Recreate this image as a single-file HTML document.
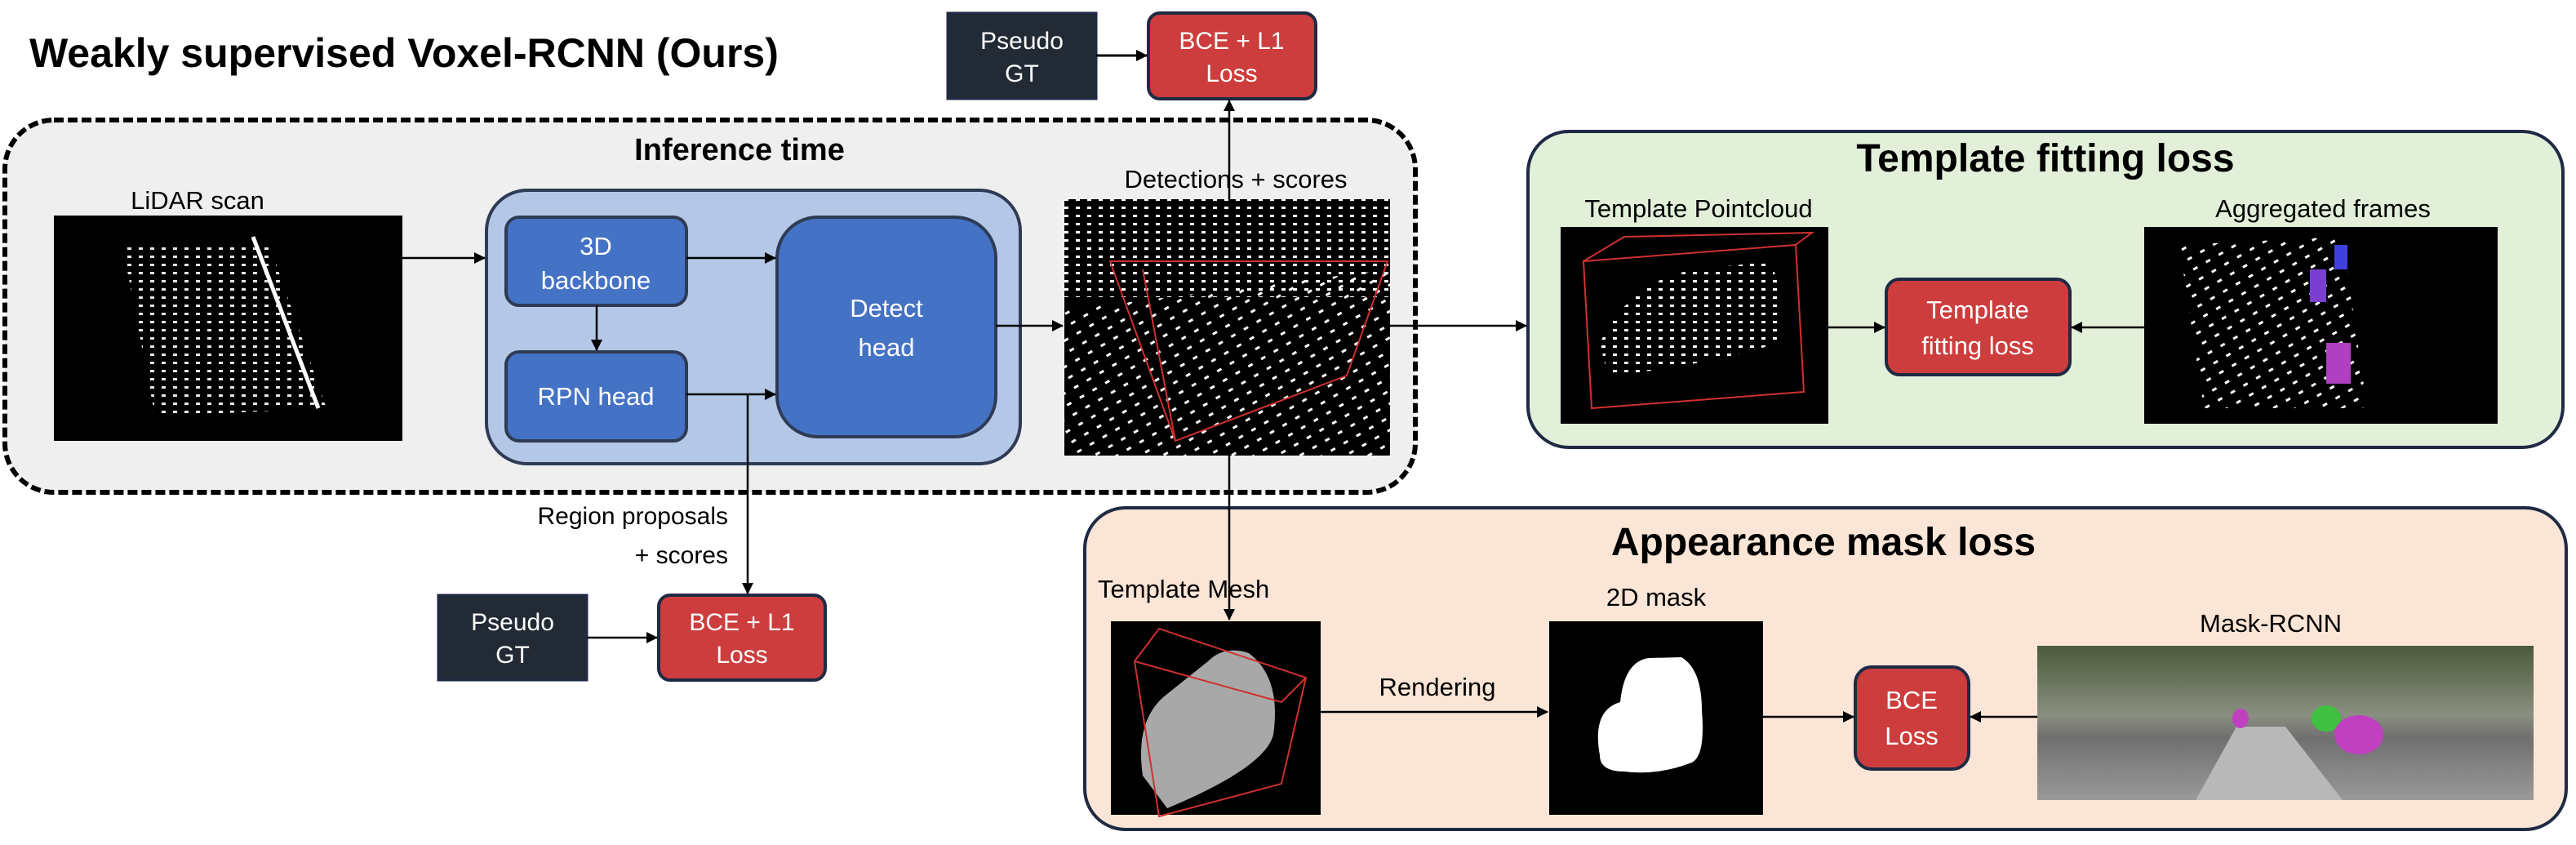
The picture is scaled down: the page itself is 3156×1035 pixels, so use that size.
<!DOCTYPE html>
<html><head><meta charset="utf-8"><style>
html,body{margin:0;padding:0;background:#fff;}
svg{display:block;font-family:"Liberation Sans",sans-serif;}
</style></head><body>
<svg width="3156" height="1035" viewBox="0 0 3156 1035" xmlns="http://www.w3.org/2000/svg">
<defs>
<marker id="ah" markerWidth="14" markerHeight="14" refX="13" refY="7" orient="auto" markerUnits="userSpaceOnUse" viewBox="0 0 14 14">
<path d="M0,0 L14,7 L0,14 z" fill="#000"/></marker>
<pattern id="dots" width="14" height="10" patternUnits="userSpaceOnUse"><rect x="2" y="3" width="5" height="3" fill="#fff"/></pattern>
<pattern id="dots2" width="18" height="14" patternUnits="userSpaceOnUse" patternTransform="rotate(-30)"><rect x="2" y="4" width="6" height="3" fill="#fff"/></pattern>
<linearGradient id="street" x1="0" y1="0" x2="0" y2="1"><stop offset="0" stop-color="#4a5a3a"/><stop offset="0.45" stop-color="#8a8f80"/><stop offset="0.6" stop-color="#6f6f6f"/><stop offset="1" stop-color="#9a9a9a"/></linearGradient>
</defs>

<text x="36" y="82" font-size="50" font-weight="bold">Weakly supervised Voxel-RCNN (Ours)</text>

<rect x="1161" y="16" width="182" height="105" fill="#222a35" stroke="#1f2a44" stroke-width="3"/>
<text x="1252" y="60" font-size="30" fill="#fff" text-anchor="middle">Pseudo</text>
<text x="1252" y="100" font-size="30" fill="#fff" text-anchor="middle">GT</text>
<rect x="1407" y="16" width="205" height="105" rx="14" fill="#cd3d3d" stroke="#1f2a44" stroke-width="4"/>
<text x="1509" y="60" font-size="30" fill="#fff" text-anchor="middle">BCE + L1</text>
<text x="1509" y="100" font-size="30" fill="#fff" text-anchor="middle">Loss</text>
<line x1="1343" y1="68" x2="1405" y2="68" stroke="#000" stroke-width="3" marker-end="url(#ah)"/>

<rect x="6" y="147" width="1728" height="456" rx="60" fill="#efefef" stroke="#000" stroke-width="6" stroke-dasharray="12,5"/>
<text x="906" y="196" font-size="38" font-weight="bold" text-anchor="middle">Inference time</text>
<text x="242" y="256" font-size="31" text-anchor="middle">LiDAR scan</text>
<rect x="66" y="264" width="427" height="276" fill="#000"/>
<path d="M150,300 L330,300 L400,500 L190,510 Z" fill="url(#dots)" opacity="0.9"/>
<line x1="310" y1="290" x2="390" y2="500" stroke="#fff" stroke-width="5"/>

<rect x="596" y="233" width="654" height="335" rx="50" fill="#b4c7e7" stroke="#2f3b55" stroke-width="4"/>
<rect x="620" y="266" width="221" height="108" rx="16" fill="#4472c4" stroke="#2f3b55" stroke-width="4"/>
<text x="730" y="312" font-size="31" fill="#fff" text-anchor="middle">3D</text>
<text x="730" y="354" font-size="31" fill="#fff" text-anchor="middle">backbone</text>
<rect x="620" y="431" width="221" height="109" rx="16" fill="#4472c4" stroke="#2f3b55" stroke-width="4"/>
<text x="730" y="496" font-size="31" fill="#fff" text-anchor="middle">RPN head</text>
<rect x="952" y="266" width="268" height="269" rx="50" fill="#4472c4" stroke="#2f3b55" stroke-width="4"/>
<text x="1086" y="388" font-size="31" fill="#fff" text-anchor="middle">Detect</text>
<text x="1086" y="436" font-size="31" fill="#fff" text-anchor="middle">head</text>

<line x1="493" y1="316" x2="594" y2="316" stroke="#000" stroke-width="2.5" marker-end="url(#ah)"/>
<line x1="841" y1="316" x2="950" y2="316" stroke="#000" stroke-width="2.5" marker-end="url(#ah)"/>
<line x1="841" y1="483" x2="950" y2="483" stroke="#000" stroke-width="2.5" marker-end="url(#ah)"/>
<line x1="731" y1="374" x2="731" y2="429" stroke="#000" stroke-width="2.5" marker-end="url(#ah)"/>
<line x1="1220" y1="399" x2="1302" y2="399" stroke="#000" stroke-width="2.5" marker-end="url(#ah)"/>

<text x="1514" y="230" font-size="31" text-anchor="middle">Detections + scores</text>
<rect x="1304" y="244" width="399" height="314" fill="#000"/>
<rect x="1304" y="244" width="399" height="120" fill="url(#dots)"/>
<path d="M1304,380 L1703,330 L1703,558 L1304,558 Z" fill="url(#dots2)"/>
<path d="M1360,320 L1700,320 L1650,460 L1440,540 Z M1440,540 L1400,330" fill="none" stroke="#d03030" stroke-width="2"/>

<line x1="1506" y1="244" x2="1506" y2="123" stroke="#000" stroke-width="2.5" marker-end="url(#ah)"/>
<line x1="1703" y1="399" x2="1870" y2="399" stroke="#000" stroke-width="2.5" marker-end="url(#ah)"/>

<line x1="916" y1="483" x2="916" y2="727" stroke="#000" stroke-width="2.5" marker-end="url(#ah)"/>
<text x="892" y="642" font-size="30" text-anchor="end">Region proposals</text>
<text x="892" y="690" font-size="30" text-anchor="end">+ scores</text>
<rect x="537" y="729" width="182" height="104" fill="#222a35" stroke="#1f2a44" stroke-width="3"/>
<text x="628" y="772" font-size="30" fill="#fff" text-anchor="middle">Pseudo</text>
<text x="628" y="812" font-size="30" fill="#fff" text-anchor="middle">GT</text>
<rect x="807" y="729" width="204" height="104" rx="14" fill="#cd3d3d" stroke="#1f2a44" stroke-width="4"/>
<text x="909" y="772" font-size="30" fill="#fff" text-anchor="middle">BCE + L1</text>
<text x="909" y="812" font-size="30" fill="#fff" text-anchor="middle">Loss</text>
<line x1="719" y1="781" x2="805" y2="781" stroke="#000" stroke-width="2.5" marker-end="url(#ah)"/>

<rect x="1872" y="161" width="1268" height="387" rx="50" fill="#e2f0d9" stroke="#1f2a44" stroke-width="4"/>
<text x="2506" y="210" font-size="48" font-weight="bold" text-anchor="middle">Template fitting loss</text>
<text x="2081" y="266" font-size="31" text-anchor="middle">Template Pointcloud</text>
<rect x="1912" y="278" width="328" height="241" fill="#000"/>
<path d="M1960,420 Q2000,340 2080,330 L2170,320 Q2190,380 2180,420 Q2080,450 1970,460 Z" fill="url(#dots)"/>
<path d="M1940,320 L2200,300 L2210,480 L1950,500 Z M1940,320 L1990,290 L2220,285 L2200,300" fill="none" stroke="#d03030" stroke-width="2"/>
<text x="2846" y="266" font-size="31" text-anchor="middle">Aggregated frames</text>
<rect x="2627" y="278" width="433" height="241" fill="#000"/>
<path d="M2670,300 L2870,290 L2900,500 L2700,500 Z" fill="url(#dots2)"/>
<rect x="2830" y="330" width="20" height="40" fill="#7a3fd0"/><rect x="2860" y="300" width="16" height="30" fill="#4040e0"/><rect x="2850" y="420" width="30" height="50" fill="#b040c0"/>
<rect x="2311" y="342" width="225" height="117" rx="16" fill="#cd3d3d" stroke="#1f2a44" stroke-width="4"/>
<text x="2423" y="390" font-size="31" fill="#fff" text-anchor="middle">Template</text>
<text x="2423" y="434" font-size="31" fill="#fff" text-anchor="middle">fitting loss</text>
<line x1="2240" y1="401" x2="2309" y2="401" stroke="#000" stroke-width="2.5" marker-end="url(#ah)"/>
<line x1="2627" y1="401" x2="2538" y2="401" stroke="#000" stroke-width="2.5" marker-end="url(#ah)"/>

<rect x="1329" y="622" width="1815" height="394" rx="50" fill="#fbe5d6" stroke="#1f2a44" stroke-width="4"/>
<text x="2234" y="680" font-size="48" font-weight="bold" text-anchor="middle">Appearance mask loss</text>
<text x="1345" y="732" font-size="31">Template  Mesh</text>
<rect x="1361" y="761" width="257" height="237" fill="#000"/>
<path d="M1400,950 Q1390,880 1430,850 L1480,810 Q1500,790 1530,800 Q1570,830 1560,900 Q1550,940 1430,990 Z" fill="#a8a8a8"/>
<path d="M1390,810 L1420,770 L1600,830 L1570,960 L1420,1000 L1390,810 Z M1390,810 L1570,860 L1600,830" fill="none" stroke="#d03030" stroke-width="2"/>
<line x1="1506" y1="558" x2="1506" y2="759" stroke="#000" stroke-width="2.5" marker-end="url(#ah)"/>
<text x="1761" y="852" font-size="31" text-anchor="middle">Rendering</text>
<line x1="1618" y1="872" x2="1896" y2="872" stroke="#000" stroke-width="2.5" marker-end="url(#ah)"/>
<text x="2029" y="742" font-size="31" text-anchor="middle">2D mask</text>
<rect x="1898" y="761" width="262" height="237" fill="#000"/>
<path d="M1960,925 Q1950,870 1985,860 Q1990,810 2020,806 L2060,805 Q2085,820 2085,870 Q2090,930 2070,935 Q2030,950 1990,945 Q1960,945 1960,925 Z" fill="#fff"/>
<line x1="2160" y1="878" x2="2271" y2="878" stroke="#000" stroke-width="2.5" marker-end="url(#ah)"/>
<rect x="2273" y="817" width="139" height="125" rx="20" fill="#cd3d3d" stroke="#1f2a44" stroke-width="4"/>
<text x="2342" y="868" font-size="31" fill="#fff" text-anchor="middle">BCE</text>
<text x="2342" y="912" font-size="31" fill="#fff" text-anchor="middle">Loss</text>
<text x="2782" y="774" font-size="31" text-anchor="middle">Mask-RCNN</text>
<rect x="2496" y="791" width="608" height="189" fill="url(#street)"/>
<path d="M2740,890 L2800,890 L2870,980 L2690,980 Z" fill="#b8b8b8"/>
<ellipse cx="2850" cy="880" rx="18" ry="16" fill="#40c040"/>
<ellipse cx="2890" cy="900" rx="30" ry="24" fill="#c040c0"/>
<ellipse cx="2745" cy="880" rx="10" ry="12" fill="#c040c0"/>
<line x1="2496" y1="878" x2="2414" y2="878" stroke="#000" stroke-width="2.5" marker-end="url(#ah)"/>
</svg>
</body></html>
